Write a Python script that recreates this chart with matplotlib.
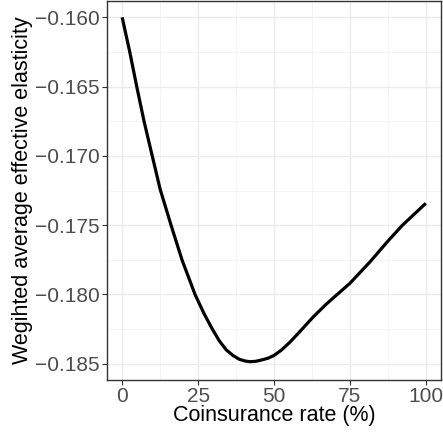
import numpy as np
import matplotlib
matplotlib.use("Agg")
from matplotlib import pyplot as plt
from matplotlib.ticker import MultipleLocator

plt.rcParams['font.family'] = ['Liberation Sans', 'DejaVu Sans']

# values
coins_rate = [0, 2.5, 4.8, 7.2, 9.9, 12.5, 16.1, 19.7, 24.0, 27.0, 29.7, 32.0,
              34.3, 36.5, 38.6, 40.5, 42.1, 44.0, 46.0, 48.0, 50.0, 52.5, 55.2,
              58.0, 60.7, 63.0, 65.1, 67.3, 69.6, 72.0, 75.0, 81.6, 87.5, 92.3,
              100.0]
elasticity = [-0.16000, -0.16250, -0.16500, -0.16750, -0.17000, -0.17240,
              -0.17500, -0.17750, -0.18000, -0.18140, -0.18250, -0.18335,
              -0.18400, -0.18440, -0.18468, -0.18480, -0.18485, -0.18482,
              -0.18472, -0.18460, -0.18440, -0.18400, -0.18345, -0.18280,
              -0.18215, -0.18160, -0.18115, -0.18068, -0.18023, -0.17977,
              -0.17919, -0.17765, -0.17615, -0.17500, -0.17342]
x_ticks = [0, 25, 50, 75, 100]
y_ticks = [-0.160, -0.165, -0.170, -0.175, -0.180, -0.185]

fig = plt.figure(figsize=(4.43, 4.33), dpi=100)
ax = fig.add_axes([107/443, 1-380/433, (441-107)/443, (380-1)/433])

ax.plot(coins_rate, elasticity, color='black', lw=2.3,
        solid_capstyle='butt', solid_joinstyle='round')

ax.set_xlim(-5, 105)
ax.set_ylim(-0.18617, -0.15882)
ax.set_xticks(x_ticks)
ax.set_yticks(y_ticks)
ax.set_yticklabels([('%.3f' % v).replace('-', '\u2212') for v in y_ticks])
ax.xaxis.set_minor_locator(MultipleLocator(12.5))
ax.yaxis.set_minor_locator(MultipleLocator(0.0025))

ax.grid(which='major', color='#ebebeb', lw=1.0)
ax.grid(which='minor', color='#f2f2f2', lw=0.6)
ax.set_axisbelow(True)
for s in ax.spines.values():
    s.set_color('#333333')
    s.set_linewidth(1.0)
ax.tick_params(which='major', length=3.5, width=0.8, color='#333333',
               labelsize=15, labelcolor='#4d4d4d', pad=1.5)
ax.tick_params(which='minor', length=0)

ax.set_xlabel('Coinsurance rate (%)', fontsize=15.5, labelpad=-1)
ax.set_ylabel('Wegihted average effective elasticity', fontsize=15.5, labelpad=2)

fig.savefig('out.png', dpi=100)
